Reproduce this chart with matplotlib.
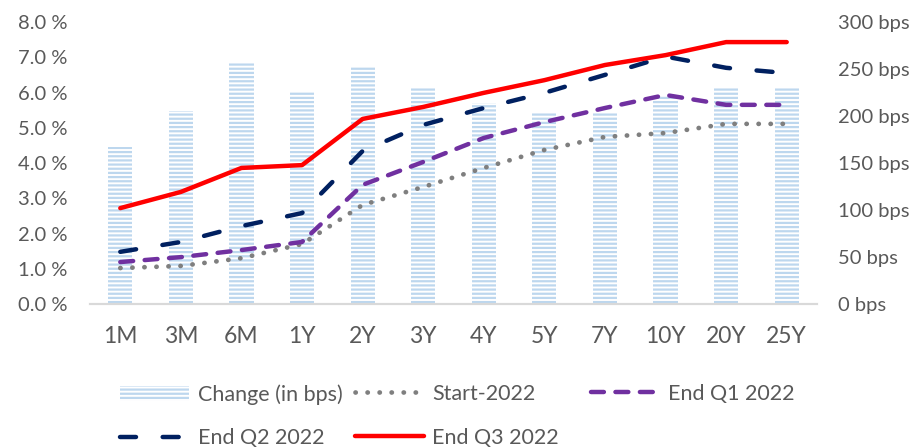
"""Yield curve snapshots during 2022 with the change (in bps) as hatched bars."""

import matplotlib

matplotlib.use("Agg")
import matplotlib.pyplot as plt
from matplotlib.ticker import FuncFormatter, MultipleLocator

tenors = ["1M", "3M", "6M", "1Y", "2Y", "3Y", "4Y", "5Y", "7Y", "10Y", "20Y", "25Y"]
change_bps = [167, 205, 256, 227, 252, 231, 214, 204, 204, 222, 231, 231]
start_2022 = [1.02, 1.08, 1.30, 1.70, 2.81, 3.32, 3.86, 4.37, 4.74, 4.85, 5.11, 5.11]
end_q1 = [1.19, 1.33, 1.53, 1.76, 3.38, 4.03, 4.71, 5.16, 5.56, 5.93, 5.65, 5.65]
end_q2 = [1.48, 1.76, 2.21, 2.58, 4.34, 5.08, 5.56, 5.99, 6.50, 7.02, 6.70, 6.55]
end_q3 = [2.72, 3.18, 3.86, 3.94, 5.25, 5.59, 5.99, 6.35, 6.78, 7.06, 7.43, 7.43]

TEXT = "#595959"

plt.rcParams.update(
    {
        "font.family": ["Lato", "DejaVu Sans"],
        "font.size": 15,
        "hatch.linewidth": 1.6,
        "hatch.color": "#BDD7EE",
    }
)

fig = plt.figure(figsize=(9.14, 4.48), dpi=100)
ax = fig.add_axes([90 / 914, 1 - 304 / 448, 727 / 914, 282 / 448])
ax_b = ax.twinx()

x = list(range(len(tenors)))

bars = ax_b.bar(
    x,
    change_bps,
    width=0.4,
    facecolor="white",
    edgecolor="#BDD7EE",
    hatch="----",
    linewidth=0,
    label="Change (in bps)",
)

(l_start,) = ax.plot(
    x, start_2022, color="#7F7F7F", lw=3.4, dashes=(0.05, 2.5),
    dash_capstyle="round", label="Start-2022",
)
(l_q1,) = ax.plot(
    x, end_q1, color="#7030A0", lw=3.2, dashes=(2.9, 2.6),
    dash_capstyle="round", label="End Q1 2022",
)
(l_q2,) = ax.plot(
    x, end_q2, color="#002060", lw=3.2, dashes=(3.6, 6.0),
    dash_capstyle="round", label="End Q2 2022",
)
(l_q3,) = ax.plot(
    x, end_q3, color="#FF0000", lw=3.2, solid_capstyle="round",
    label="End Q3 2022",
)

ax.set_zorder(ax_b.get_zorder() + 1)
ax.patch.set_visible(False)

ax.set_xlim(-0.5, len(tenors) - 0.5)
ax.set_ylim(0, 8)
ax_b.set_ylim(0, 300)
ax.yaxis.set_major_locator(MultipleLocator(1))
ax_b.yaxis.set_major_locator(MultipleLocator(50))
ax.yaxis.set_major_formatter(FuncFormatter(lambda v, _: f"{v:.1f} %"))
ax_b.yaxis.set_major_formatter(FuncFormatter(lambda v, _: f"{v:.0f} bps"))
ax.set_xticks(x)
ax.set_xticklabels(tenors)

for a in (ax, ax_b):
    for side in ("top", "left", "right"):
        a.spines[side].set_visible(False)
    a.spines["bottom"].set_color("#D9D9D9")
    a.spines["bottom"].set_linewidth(1.5)
    a.tick_params(length=0, colors=TEXT, labelsize=14.5)
ax.tick_params(axis="x", pad=16, labelsize=16.5)
ax.tick_params(axis="y", pad=16)
ax_b.tick_params(axis="y", pad=15)

# Excel-style legend: equal-width columns, so one small legend per column
legend_cols = [(120, [bars, l_q2]), (355, [l_start, l_q3]), (591, [l_q1])]
for left_px, handles in legend_cols:
    fig.legend(
        handles,
        [h.get_label() for h in handles],
        loc="upper left",
        bbox_to_anchor=(left_px / 914, 1 - 384 / 448),
        frameon=False,
        fontsize=15.5,
        labelcolor=TEXT,
        handlelength=3.2,
        handletextpad=0.4,
        labelspacing=1.1,
        borderpad=0,
        borderaxespad=0,
    )

fig.savefig("out.png", dpi=100)
